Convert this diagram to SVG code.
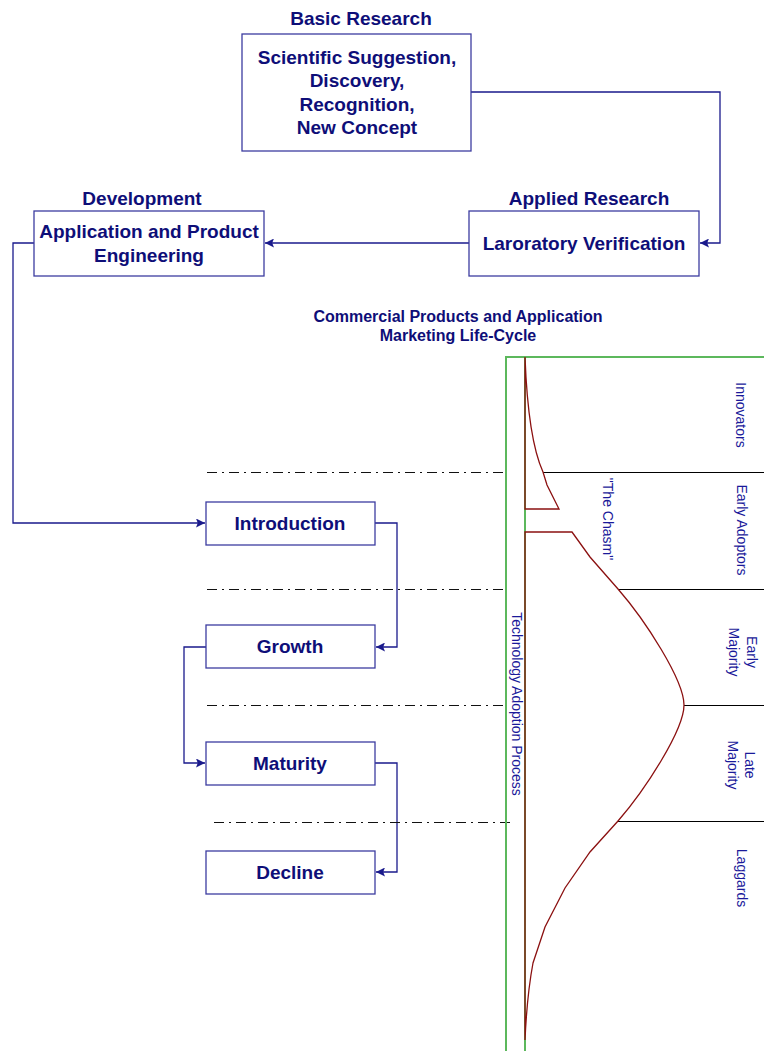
<svg xmlns="http://www.w3.org/2000/svg" width="764" height="1051" viewBox="0 0 764 1051">
  <style>
    .box { fill: #ffffff; stroke: #3c3ca0; stroke-width: 1.3; }
    .lbl { font-family: "Liberation Sans", Arial, sans-serif; font-weight: bold; font-size: 19px; fill: #0e0e78; text-anchor: middle; }
    .sub { font-family: "Liberation Sans", Arial, sans-serif; font-weight: bold; font-size: 16px; fill: #0e0e78; text-anchor: middle; }
    .vt { font-family: "Liberation Sans", Arial, sans-serif; font-size: 14px; fill: #1a1a9a; text-anchor: middle; }
    .conn { fill: none; stroke: #1a1a8c; stroke-width: 1.3; }
    .sep { fill: none; stroke: #111111; stroke-width: 1; stroke-dasharray: 10 5 2 5; shape-rendering: crispEdges; }
    .band { fill: none; stroke: #000000; stroke-width: 1; shape-rendering: crispEdges; }
    .axis { fill: none; stroke: #5cb85c; stroke-width: 2; shape-rendering: crispEdges; }
    .curve { fill: none; stroke: #8b1010; stroke-width: 1.3; }
  </style>
  <defs>
    <marker id="arrow" viewBox="0 0 10 10" refX="10" refY="5" markerWidth="10" markerHeight="9" markerUnits="userSpaceOnUse" orient="auto">
      <path d="M0,0 L10,5 L0,10 L2,5 Z" fill="#1a1a8c"/>
    </marker>
  </defs>

  <rect width="764" height="1051" fill="#ffffff"/>

  <!-- connectors between stages -->
  <g id="connectors">
    <path class="conn" d="M471,92 H720 V243 H700" marker-end="url(#arrow)"/>
    <path class="conn" d="M469,243 H265" marker-end="url(#arrow)"/>
    <path class="conn" d="M34,243 H13 V523 H205" marker-end="url(#arrow)"/>
    <path class="conn" d="M375,523 H397 V647 H376" marker-end="url(#arrow)"/>
    <path class="conn" d="M206,647 H184 V763 H205" marker-end="url(#arrow)"/>
    <path class="conn" d="M375,763 H397 V872 H376" marker-end="url(#arrow)"/>
  </g>

  <!-- research and development stages -->
  <g id="basic-research">
    <text class="lbl" x="361" y="25">Basic Research</text>
    <rect class="box" x="242" y="34" width="229" height="117"/>
    <text class="lbl" x="357" y="64">Scientific Suggestion,</text>
    <text class="lbl" x="357" y="87">Discovery,</text>
    <text class="lbl" x="357" y="111">Recognition,</text>
    <text class="lbl" x="357" y="134">New Concept</text>
  </g>

  <g id="applied-research">
    <text class="lbl" x="589" y="205">Applied Research</text>
    <rect class="box" x="469" y="211" width="230" height="65"/>
    <text class="lbl" x="584" y="250">Laroratory Verification</text>
  </g>

  <g id="development">
    <text class="lbl" x="142" y="205">Development</text>
    <rect class="box" x="34" y="211" width="230" height="65"/>
    <text class="lbl" x="149" y="238">Application and Product</text>
    <text class="lbl" x="149" y="262">Engineering</text>
  </g>

  <g id="lifecycle-title">
    <text class="sub" x="458" y="322">Commercial Products and Application</text>
    <text class="sub" x="458" y="341">Marketing Life-Cycle</text>
  </g>

  <!-- phase separators -->
  <g id="separators">
    <line class="sep" x1="207" y1="472" x2="505" y2="472"/>
    <line class="sep" x1="207" y1="589" x2="505" y2="589"/>
    <line class="sep" x1="207" y1="705" x2="505" y2="705"/>
    <line class="sep" x1="214" y1="822" x2="511" y2="822"/>
  </g>

  <!-- marketing life-cycle stages -->
  <g id="introduction">
    <rect class="box" x="206" y="502" width="169" height="43"/>
    <text class="lbl" x="290" y="530">Introduction</text>
  </g>
  <g id="growth">
    <rect class="box" x="206" y="625" width="169" height="43"/>
    <text class="lbl" x="290" y="653">Growth</text>
  </g>
  <g id="maturity">
    <rect class="box" x="206" y="742" width="169" height="43"/>
    <text class="lbl" x="290" y="770">Maturity</text>
  </g>
  <g id="decline">
    <rect class="box" x="206" y="851" width="169" height="43"/>
    <text class="lbl" x="290" y="879">Decline</text>
  </g>

  <!-- technology adoption curve -->
  <g id="adoption">
    <path class="axis" d="M506,1051 V357 H764"/>
    <line class="axis" x1="525" y1="357" x2="525" y2="1051"/>

    <line class="band" x1="543" y1="472" x2="764" y2="472"/>
    <line class="band" x1="618" y1="589" x2="764" y2="589"/>
    <line class="band" x1="684" y1="705" x2="764" y2="705"/>
    <line class="band" x1="618" y1="821" x2="764" y2="821" stroke="#333333" stroke-width="2"/>

    <path class="curve" d="M525,509 V357 C527,410 533,450 543,472 L547,485 L559,509 Z"/>
    <path class="curve" d="M525,1040 V532 H572 L590,557 L618,589 C645,620 684,680 684,705 C684,730 645,790 618,821 L590,852 L565,888 L545,927 L533,963 Q527,995 525,1040"/>

    <text class="vt" transform="translate(512,704) rotate(90)">Technology Adoption Process</text>
    <text class="vt" transform="translate(603,519) rotate(90)">"The Chasm"</text>
    <text class="vt" transform="translate(736,415) rotate(90)">Innovators</text>
    <text class="vt" transform="translate(737,530) rotate(90)">Early Adoptors</text>
    <text class="vt" transform="translate(747,652) rotate(90)">Early</text>
    <text class="vt" transform="translate(729,652) rotate(90)">Majority</text>
    <text class="vt" transform="translate(745,765) rotate(90)">Late</text>
    <text class="vt" transform="translate(728,765) rotate(90)">Majority</text>
    <text class="vt" transform="translate(737,878) rotate(90)">Laggards</text>
  </g>
</svg>
